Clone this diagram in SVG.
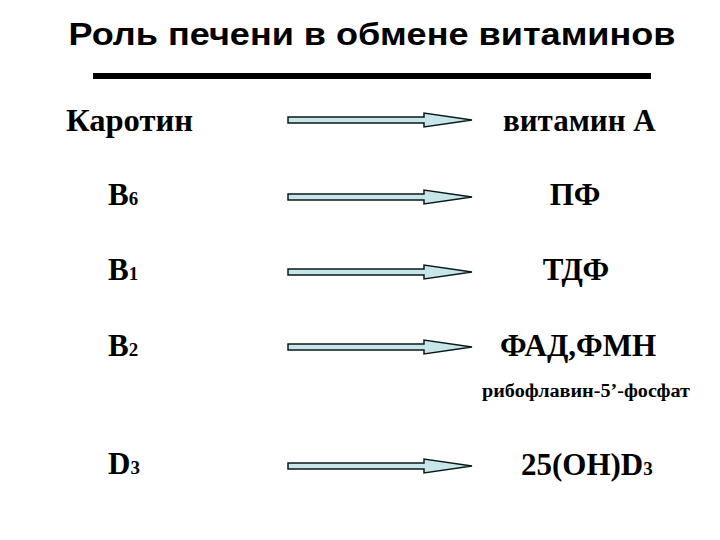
<svg xmlns="http://www.w3.org/2000/svg" width="720" height="540" viewBox="0 0 720 540">
<defs>
<style>
.t{font-family:'Liberation Serif','Times New Roman',serif;font-weight:700;font-size:31px;fill:#000}
.s{font-size:19px}
.sm{font-family:'Liberation Serif','Times New Roman',serif;font-weight:700;font-size:18px;fill:#000}
.title{font-family:'Liberation Sans',Arial,sans-serif;font-weight:700;font-size:32px;fill:#000}
.arr{fill:#c8e6ea;stroke:#0a1a1a;stroke-width:1.5;stroke-linejoin:miter}
</style>
<path id="arrow" class="arr" d="M288,-3 H424 V-7 L472,0 L424,7 V3 H288 Z"/>
</defs>
<rect width="720" height="540" fill="#fff"/>
<g id="title">
<text class="title" x="372" y="45" text-anchor="middle" textLength="607" lengthAdjust="spacingAndGlyphs">Роль печени в обмене витаминов</text>
<rect x="93" y="73" width="558" height="6" fill="#000"/>
</g>
<g id="connectors">
<use href="#arrow" y="120"/>
<use href="#arrow" y="197"/>
<use href="#arrow" y="272"/>
<use href="#arrow" y="347"/>
<use href="#arrow" y="466"/>
</g>
<g id="n-karotin"><text class="t" x="66" y="131" textLength="127" lengthAdjust="spacingAndGlyphs">Каротин</text></g>
<g id="n-vitA"><text class="t" x="503" y="131">витамин А</text></g>
<g id="n-b6"><text class="t" x="108" y="205">В<tspan class="s">6</tspan></text></g>
<g id="n-pf"><text class="t" x="575" y="205" text-anchor="middle">ПФ</text></g>
<g id="n-b1"><text class="t" x="108" y="280">В<tspan class="s">1</tspan></text></g>
<g id="n-tdf"><text class="t" x="576" y="280" text-anchor="middle">ТДФ</text></g>
<g id="n-b2"><text class="t" x="108" y="356">В<tspan class="s">2</tspan></text></g>
<g id="n-fad"><text class="t" x="578" y="356" text-anchor="middle">ФАД,ФМН</text>
<text class="sm" x="586" y="397" text-anchor="middle" textLength="208" lengthAdjust="spacingAndGlyphs">рибофлавин-5’-фосфат</text></g>
<g id="n-d3"><text class="t" x="108" y="474">D<tspan class="s">3</tspan></text></g>
<g id="n-25oh"><text class="t" x="521" y="475">25(OH)D<tspan class="s">3</tspan></text></g>
</svg>
